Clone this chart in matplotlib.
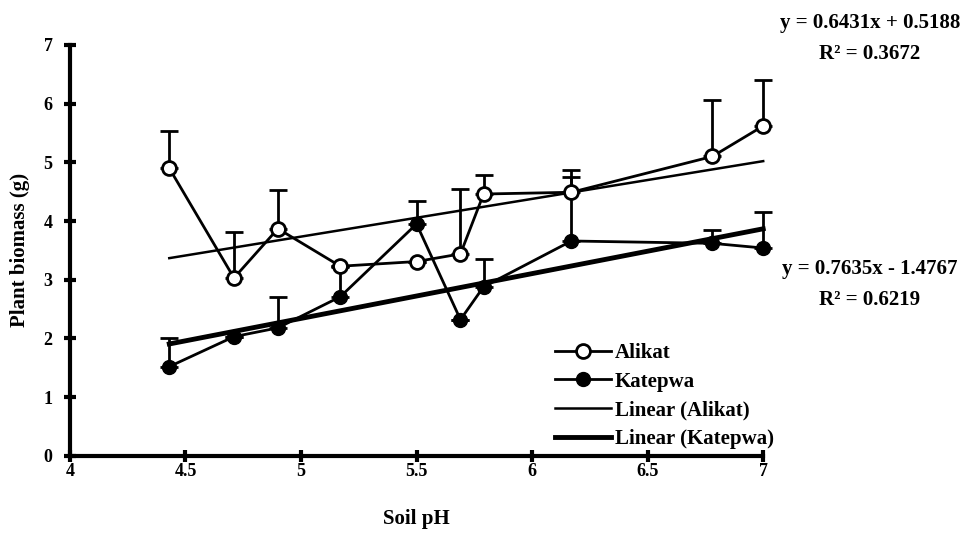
import matplotlib.pyplot as plt
import numpy as np

plt.rcParams['font.family'] = ['Liberation Serif', 'DejaVu Serif']
plt.rcParams['font.weight'] = 'bold'

# Soil pH of each plot
ph = [4.43, 4.71, 4.90, 5.17, 5.50, 5.69, 5.79, 6.17, 6.78, 7.00]

# Alikat biomass (g) and upper error
alikat = [4.90, 3.03, 3.87, 3.23, 3.31, 3.44, 4.46, 4.49, 5.10, 5.62]
alikat_err = [0.63, 0.79, 0.66, 0.0, 0.0, 1.11, 0.33, 0.38, 0.96, 0.78]

# Katepwa biomass (g) and upper error
katepwa = [1.52, 2.03, 2.18, 2.71, 3.95, 2.32, 2.88, 3.66, 3.62, 3.54]
katepwa_err = [0.48, 0.0, 0.53, 0.50, 0.39, 0.0, 0.48, 1.09, 0.23, 0.62]

# Linear trend lines shown on the chart
alikat_fit = (0.6431, 0.5188)
katepwa_fit = (0.7635, -1.4767)

fig = plt.figure(figsize=(9.71, 5.35), dpi=100)
ax = fig.add_axes([0.072, 0.148, 0.714, 0.768])

ph_arr = np.array(ph)
x_fit = np.array([ph_arr.min(), ph_arr.max()])

for vals, errs in [(alikat, alikat_err), (katepwa, katepwa_err)]:
    eb = ax.errorbar(ph, vals, yerr=[np.zeros(len(vals)), errs], fmt='none',
                     ecolor='black', elinewidth=2, capsize=6.5, capthick=2, zorder=2)
    for art in eb.lines[1] + eb.lines[2]:
        art.set_clip_on(False)

lines = []
lines += ax.plot(ph, alikat, color='black', lw=2, marker='o', ms=10, mfc='white',
                 mec='black', mew=2, label='Alikat', zorder=4)
lines += ax.plot(ph, katepwa, color='black', lw=2, marker='o', ms=10, mfc='black',
                 mec='black', label='Katepwa', zorder=4)
lines += ax.plot(x_fit, alikat_fit[0] * x_fit + alikat_fit[1], color='black', lw=1.8,
                 label='Linear (Alikat)', zorder=3)
lines += ax.plot(x_fit, katepwa_fit[0] * x_fit + katepwa_fit[1], color='black', lw=3.5,
                 label='Linear (Katepwa)', zorder=3)
for ln in lines:
    ln.set_clip_on(False)

ax.set_xlim(4, 7)
ax.set_ylim(0, 7)
ax.set_xticks([4, 4.5, 5, 5.5, 6, 6.5, 7])
ax.set_xticklabels(['4', '4.5', '5', '5.5', '6', '6.5', '7'])
ax.set_yticks(range(0, 8))

for side in ['top', 'right']:
    ax.spines[side].set_visible(False)
for side in ['left', 'bottom']:
    ax.spines[side].set_linewidth(3)
ax.tick_params(direction='inout', length=9, width=3, labelsize=13)
ax.tick_params(axis='x', pad=1)
ax.tick_params(axis='y', pad=8)

ax.set_xlabel('Soil pH', fontsize=15, fontweight='bold')
ax.set_ylabel('Plant biomass (g)', fontsize=15, fontweight='bold')
ax.xaxis.set_label_coords(0.5, -0.13)
ax.yaxis.set_label_coords(-0.058, 0.5)

leg = ax.legend(loc='upper left', bbox_to_anchor=(0.70, 0.275), frameon=False,
                fontsize=15, handlelength=2.7, handletextpad=0.15,
                labelspacing=0.42, borderaxespad=0, borderpad=0)

fig.text(0.896, 0.975, 'y = 0.6431x + 0.5188', ha='center', va='top',
         fontsize=15, fontweight='bold')
fig.text(0.896, 0.918, 'R² = 0.3672', ha='center', va='top',
         fontsize=15, fontweight='bold')
fig.text(0.896, 0.515, 'y = 0.7635x - 1.4767', ha='center', va='top',
         fontsize=15, fontweight='bold')
fig.text(0.896, 0.458, 'R² = 0.6219', ha='center', va='top',
         fontsize=15, fontweight='bold')

fig.savefig('out.png', dpi=100)
